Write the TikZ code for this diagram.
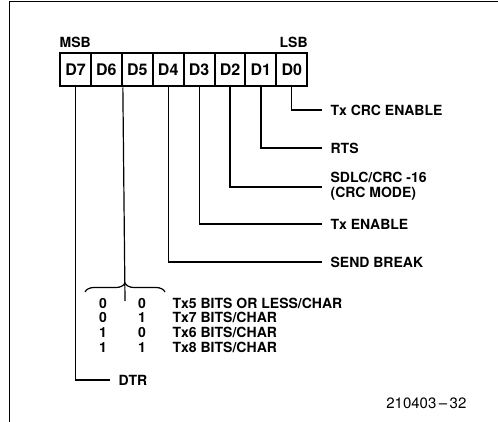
\documentclass[tikz,border=0pt]{standalone}
\usepackage{fontspec}
\setmainfont{TeX Gyre Heros}
\usetikzlibrary{decorations.pathreplacing}

\begin{document}
\begin{tikzpicture}[x=1pt, y=-1pt, line width=1.2pt,
  bitbox/.style={draw, line width=2pt, minimum width=30.9pt, minimum height=33pt, inner sep=0pt, font=\bfseries\fontsize{16}{16}\selectfont},
  bitlbl/.style={anchor=west, inner xsep=8pt, inner ysep=1pt, font=\bfseries\fontsize{14}{15}\selectfont},
  tbl/.style={inner sep=0pt, font=\bfseries\fontsize{14}{14.7}\selectfont}]
  \useasboundingbox (0,0) rectangle (498,422);
  \draw [line width=1pt] (498,2) -- (9,2) -- (9,422);

  \node [bitbox] (d7) at (75.5,70) {D7};
  \node [bitbox] (d6) at (106.4,70) {D6};
  \node [bitbox] (d5) at (137.3,70) {D5};
  \node [bitbox] (d4) at (168.2,70) {D4};
  \node [bitbox] (d3) at (199.1,70) {D3};
  \node [bitbox] (d2) at (230.0,70) {D2};
  \node [bitbox] (d1) at (260.9,70) {D1};
  \node [bitbox] (d0) at (291.8,70) {D0};
  \node [anchor=south west, inner sep=0pt, font=\bfseries\fontsize{14}{14}\selectfont] (msb) at ([yshift=4pt]d7.north west) {MSB};
  \node [anchor=south east, inner sep=0pt, font=\bfseries\fontsize{14}{14}\selectfont] (lsb) at ([yshift=4pt]d0.north east) {LSB};

  \node [bitlbl] (crc) at (322,110) {Tx CRC ENABLE};
  \node [bitlbl] (rts) at (322,148) {RTS};
  \node [bitlbl] (sdlc) at (322,187) {\begin{tabular}{@{}l@{}}SDLC/CRC -16\\(CRC MODE)\end{tabular}};
  \node [bitlbl] (txen) at (322,224) {Tx ENABLE};
  \node [bitlbl] (brk) at (322,262) {SEND BREAK};
  \node [bitlbl] (dtr) at (110,380) {DTR};

  \draw (d0.south) |- (crc);
  \draw (d1.south) |- (rts);
  \draw (d2.south) |- (sdlc);
  \draw (d3.south) |- (txen);
  \draw (d4.south) |- (brk);
  \draw (d7.south) |- (dtr);

  % character length
  \draw [decorate, decoration={brace, amplitude=9pt}] (85,292) -- (165,292) coordinate [pos=0.5] (tip);
  \draw (d6.south east) -- ([yshift=-9pt]tip);
  \node [tbl, anchor=base] (bita) at (103,308) {\begin{tabular}[t]{@{}c@{}}0\\0\\1\\1\end{tabular}};
  \node [tbl, anchor=base] (bitb) at (142,308) {\begin{tabular}[t]{@{}c@{}}0\\1\\0\\1\end{tabular}};
  \node [tbl, anchor=base west] (len) at (172,308) {\begin{tabular}[t]{@{}l@{}}Tx5 BITS OR LESS/CHAR\\Tx7 BITS/CHAR\\Tx6 BITS/CHAR\\Tx8 BITS/CHAR\end{tabular}};

  \node [anchor=east, inner sep=0pt, font=\fontsize{15}{15}\selectfont] (fig) at (467,403) {210403\,--\,32};
\end{tikzpicture}
\end{document}
